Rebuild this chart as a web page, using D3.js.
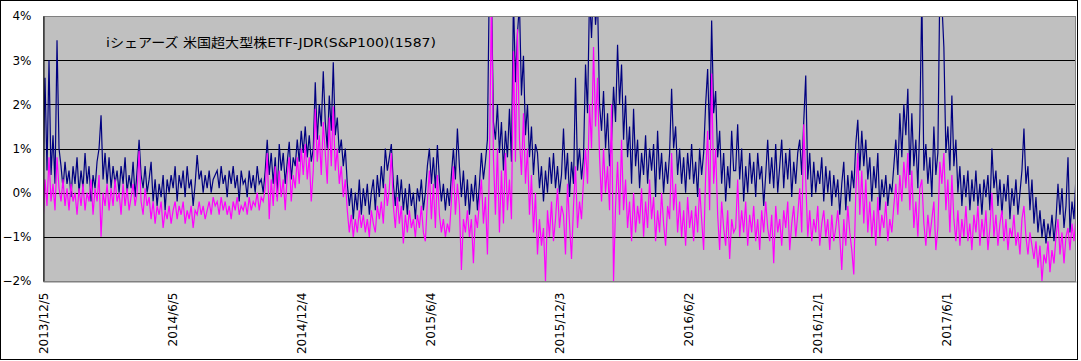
<!DOCTYPE html>
<html>
<head>
<meta charset="utf-8">
<script src="https://cdn.jsdelivr.net/npm/d3@7"></script>
<style>
  body { margin: 0; background: #fff; }
  svg { display: block; }
  text { font-family: "DejaVu Sans", "Noto Sans CJK JP", sans-serif; }
</style>
</head>
<body>
<div id="vis"></div>
<script>
// datos (en %), una muestra cada ~2 ruedas, desde 2013/12/5
const TITLE = "iシェアーズ 米国超大型株ETF-JDR(S&P100)(1587)";
const START_DATE = "2013-12-05";
const END_DATE = "2017-12-01";
const X_TICKS = ["2013-12-05", "2014-06-05", "2014-12-04", "2015-06-04", "2015-12-03", "2016-06-02", "2016-12-01", "2017-06-01"];
const Y_TICKS = [-2, -1, 0, 1, 2, 3, 4];
const Y_LABELS = ["−2%", "−1%", "0%", "1%", "2%", "3%", "4%"];

const navy = [
  0.3, 2.6, 0.5, 3.0, 0.4, 1.3, 0.2, 3.45, 1.0, 0.6, 0.1, 0.7, 0.2, 0.5, -0.1, 0.6, 0.2, 0.8, 0.0, 0.5,
  0.1, 0.9, 0.2, 0.6, -0.2, 0.4, 0.1, 0.7, 1.0, 1.75, 0.3, 0.9, 0.2, 0.8, 0.1, 0.6, 0.2, 0.5, 0.0, 0.6,
  0.2, 0.8, 0.0, 0.4, 0.1, 0.7, -0.1, 0.5, 1.2, 0.4, 0.1, 0.6, 0.0, 0.3, 0.7, -0.2, 0.3, -0.3, 0.2, -0.1,
  0.4, -0.4, 0.3, 0.0, 0.4, 0.1, 0.6, -0.2, 0.4, 0.1, 0.5, -0.1, 0.6, 0.1, 0.3, -0.3, 0.2, 0.85, 0.3, 0.5,
  0.0, 0.4, 0.1, 0.5, 0.0, 0.3, 0.4,
  // 2014 後半
  0.5, 0.1, 0.6, 0.2, 0.4, -0.1, 0.5, 0.2, 0.6, 0.1, 0.4, -0.2, 0.5, 0.2, 0.3, -0.1, 0.5, 0.1, 0.4, 0.0,
  0.6, 0.2, 0.3, 0.0, 0.5, 1.2, 0.4, 0.9, 0.2, 0.8, -0.1, 1.1, 0.5, 0.9, 0.2, 0.7, 1.15, 0.3, 0.8, 0.6,
  1.2, 0.7, 1.4, 0.9, 1.5, 0.8, 1.3, 0.7, 1.0, 2.5, 1.2, 2.0, 1.5, 2.75, 1.6, 1.0, 2.2, 1.4, 2.95, 1.3,
  1.7, 0.9, 1.2, 0.6, 1.0, 0.2, -0.3, 0.1, -0.6, 0.0, -0.4, 0.3, -0.5, 0.1, -0.3, 0.2, -0.5, 0.0, 0.3, -0.4,
  0.4, -0.1, 0.6, 0.1, 1.0, 0.5, 0.8,
  // 2015
  1.1, 0.2, -0.3, 0.4, -0.2, 0.3, -0.4, 0.1, -0.5, 0.2, -0.3, 0.0, -0.6, 0.1, -0.2, 0.3, -0.4, 0.0, 0.6, 1.0,
  0.2, 0.8, 0.1, 1.08, 0.3, -0.2, 0.2, -0.4, 0.1, -0.3, 0.4, 1.0, 0.3, 1.45, 0.6, -0.1, 0.5, -0.3, 0.3, -0.5,
  0.2, -0.2, 0.4, -0.4, 0.2, 0.9, 0.3, 0.7, 1.2, 5.0, 4.6, 1.6, 1.2, 2.0, 0.9, 1.6, 0.5, 1.4, 0.8, 1.9,
  0.7, 4.4, 2.5, 3.6, 4.3, 2.2, 3.1, 1.3, 2.0, 0.8, 1.5, 0.4, 1.1, 0.9, 0.1, 0.6, -0.2, 0.5, 0.0, 0.8,
  0.2, 0.9, 0.1, 0.6, 0.0, 0.4,
  // 2016 前半
  1.45, 0.3, 0.9, -0.1, 0.7, 0.2, 2.6, 0.5, 1.0, 0.3, 0.8, 2.9, 1.8, 4.5, 3.5, 4.8, 3.8, 4.4, 2.0, 1.4,
  2.3, 1.0, 1.8, 0.6, 1.2, 2.4, 1.6, 3.35, 2.0, 2.9, 1.2, 2.2, 0.8, 1.5, 0.2, 1.9, 0.6, 1.2, 0.1, 0.9,
  0.4, 1.3, 0.2, 1.0, 0.5, 1.1, -0.1, 1.4, 0.3, 0.9, 0.0, 0.7, 0.2, 0.9, 2.35, 1.0, 1.5, 0.4, 1.0, 0.2,
  0.8, 0.0, 0.9, 0.3, 1.1, 0.2, 0.7, -0.1, 1.0, 0.4, 0.9, 2.0, 2.8, 1.2, 3.9, 1.8, 2.3, 0.8, 1.4, 0.2,
  0.9, -0.2, 0.6, 0.1, 1.4, 0.5,
  // 2016 後半
  0.5, 1.55, 0.3, 1.0, -0.2, 0.6, 0.0, 0.9, 0.2, 0.7, -0.1, 0.9, 0.3, 0.6, -0.3, 0.4, 1.2, 0.2, 0.8, 0.1,
  1.1, 0.0, 0.6, 1.2, 0.1, 0.9, 0.3, 1.0, -0.1, 0.7, 0.2, 0.9, 1.2, 0.4, 1.6, 2.65, 0.3, 0.9, -0.1, 0.7,
  0.0, 0.5, 0.2, 0.8, -0.2, 0.6, 0.0, 0.5, -0.3, 0.4, -0.1, 0.3, -0.5, 0.2, 0.7, -0.4, 0.4, -0.2, 0.5, 0.1,
  1.1, 1.65, 0.5, 1.4, 0.6, 1.2, 0.3, 0.8, -0.2, 0.6, 0.1, 0.9, -0.4, 0.3, -0.1, 0.4, -0.3, 0.2, 0.0, 0.6,
  1.2, 0.4, 1.8, 0.8, 2.0, 1.3,
  // 2017
  2.35, 0.4, 1.8, 0.6, 1.2, 0.1, 1.6, 4.5, 0.5, 1.1, 0.2, 0.8, -0.1, 1.5, 0.4, 0.9, 4.8, 4.3, 3.3, 0.9,
  1.5, 0.5, 2.2, 0.6, 1.2, 0.0, 0.6, -0.3, 0.4, -0.1, 0.5, -0.4, 0.3, -0.2, 0.5, -0.3, 0.2, -0.5, 0.3, -0.1,
  0.4, -0.4, 1.0, 0.1, 0.5, -0.3, 0.3, -0.5, 0.2, -0.2, 0.4, -0.6, 0.1, -0.3, 0.3, -0.5, 0.0, 0.5, 1.45, 0.2,
  0.6, -0.4, 0.3, -0.7, -0.1, -0.9, -0.4, -1.0, -0.6, -1.15, -0.7, -1.0, -0.5, -1.1, -0.6, 0.2, -0.5, 0.1, -0.8, -0.3,
  0.8, -0.9, -0.2, -0.6, 0.4
];

const magenta = [
  -0.7, 0.3, -0.3, 0.8, -0.2, 0.2, -0.4, 0.8, 0.1, -0.2, 0.3, -0.3, 0.1, -0.4, 0.2, -0.2, 0.0, -0.5, 0.1, -0.3,
  0.2, -0.4, 0.0, -0.2, 0.3, -0.5, 0.1, -0.2, 0.4, -1.0, 0.0, -0.3, 0.2, -0.4, 0.1, -0.3, 0.3, -0.2, 0.0, -0.5,
  0.2, -0.3, 0.1, -0.4, -0.1, 0.2, -0.3, 0.0, 0.95, -0.2, -0.5, 0.1, -0.3, -0.1, -0.6, -0.2, -0.7, -0.3, -0.5, -0.2,
  -0.8, -0.4, -0.6, -0.3, -0.7, -0.4, -0.2, -0.6, -0.3, -0.5, -0.2, -0.7, -0.4, -0.6, -0.3, -0.8, -0.4, -0.5, -0.2, -0.5,
  -0.3, -0.6, -0.4, -0.2, -0.5, -0.1, -0.3,
  // 2014 後半
  -0.2, -0.5, -0.1, -0.4, -0.2, -0.5, -0.3, -0.6, -0.2, -0.4, -0.1, -0.5, -0.3, -0.4, -0.2, -0.5, -0.1, -0.4, -0.2, -0.3,
  0.0, -0.4, -0.1, -0.2, 0.1, 0.9, -0.6, 0.3, -0.3, 0.6, -0.2, 0.5, -0.1, 0.3, -0.4, 0.4, 0.8, -0.2, 0.4, 0.1,
  0.8, 0.2, 1.0, 0.4, 1.1, 0.3, 0.8, -0.2, 0.5, 1.9, 0.7, 1.3, 0.4, 1.6, 0.9, 0.2, 1.7, 0.6, 1.95, 0.5,
  1.0, 0.2, 0.6, -0.1, 0.3, -0.4, -0.9, -0.5, -1.0, -0.6, -0.9, -0.4, -0.8, -0.5, -0.9, -0.6, -1.0, -0.4, -0.7, -0.9,
  -0.3, -0.6, -0.2, -0.7, 0.2, -0.3, 0.1,
  // 2015
  0.9, -0.3, -0.8, -0.1, -0.7, -0.3, -1.15, -0.5, -0.9, -0.4, -0.8, -0.6, -1.0, -0.5, -0.8, -0.3, -0.9, -1.1, -0.2, 0.5,
  -0.6, 0.2, -0.8, 0.4, -0.5, -0.9, -0.6, -1.0, -0.7, -0.9, -0.2, 0.6, -0.5, 0.2, -0.3, -1.75, -0.6, -0.9, -0.4, -1.0,
  -0.6, -1.6, -0.5, -0.8, -0.2, 0.3, -0.7, -0.1, -1.4, 0.6, 4.5, 0.8, -0.5, 1.0, -0.9, 0.5, -0.7, 0.9, -0.4, 0.3,
  -0.6, 3.2, 0.7, 3.7, 1.2, 0.4, 1.8, 0.2, 1.0, -0.5, 0.4, -0.9, 0.0, -1.4, -0.6, -1.2, -0.8, -2.0, -0.4, -1.0,
  -0.2, -1.1, -0.6, 0.1, -0.8, -0.3,
  // 2016 前半
  -0.5, -1.4, 0.2, -0.7, -1.5, -0.3, 0.6, -0.8, -0.2, -0.6, 0.3, 1.0, 0.2, 2.0, 1.0, 3.3, 1.5, 2.6, 0.8, -0.2,
  1.0, 0.0, 0.6, -0.4, 2.0, -2.0, -0.3, 0.7, -0.5, 1.2, -0.4, 0.3, -0.8, -0.2, -1.1, 0.0, -0.9, -0.3, -0.7, 0.1,
  -1.0, -0.2, -0.8, 0.3, -0.6, -0.1, -1.1, -0.4, -0.9, 0.0, -0.7, -1.2, -0.3, -0.6, 0.9, -0.4, 0.2, -0.9, -0.2, -1.0,
  -0.4, -1.2, -0.1, -0.8, -0.4, -1.1, -0.3, -0.9, 0.1, -0.6, -1.3, 0.4, 1.4, -0.4, 2.7, 0.2, 1.0, -0.5, -1.3, -0.2,
  -0.8, -1.2, -0.4, -1.5, -0.6, -0.9,
  // 2016 後半
  -0.8, 0.3, -1.0, -0.4, -0.9, -0.2, -1.2, -0.5, -0.9, -0.3, -1.1, -0.6, -1.3, -0.4, -0.9, -0.2, -0.8, -1.1, -0.5, -1.6,
  -0.3, -0.9, -0.6, -1.2, -0.4, -0.8, -0.2, -1.3, -0.7, -0.3, -1.0, -0.5, 0.1, -0.9, 1.55, 0.3, -1.0, -0.4, -1.1, -0.6,
  -0.9, -0.3, -1.2, -0.7, -0.4, -1.0, -0.6, -1.3, -0.5, -1.1, -0.8, -0.4, -1.0, -1.75, -0.6, -1.2, -0.3, -0.9, -1.3, -1.85,
  0.0, 0.9, -0.5, 0.5, -0.7, 0.3, -0.9, -0.2, -1.0, -0.4, -1.2, -0.1, -1.0, -0.5, -0.8, -0.2, -1.1, -0.6, -0.9, -0.3,
  0.2, -0.5, 0.4, -0.2, 0.7, 0.1,
  // 2017
  0.9, -0.4, 0.5, -0.8, -0.2, -1.0, 0.1, 0.3, -0.7, -1.2, -0.5, -1.0, -0.6, -0.2, -1.3, -0.8, 0.7, 0.2, 0.9, -0.4,
  0.3, -0.9, 0.4, -0.6, -1.1, -0.4, -1.2, -0.6, -1.0, -0.3, -1.1, -0.7, -1.3, -0.5, -0.9, -0.3, -1.2, -0.6, -1.0, -0.4,
  -1.3, -0.8, 0.0, -1.0, -0.5, -1.2, -0.7, -0.4, -1.1, -0.6, -1.3, -0.8, -1.0, -0.5, -1.2, -0.9, -1.4, -0.6, -0.3, -1.0,
  -1.4, -0.9, -1.2, -1.5, -1.1, -1.7, -1.2, -2.0, -1.4, -1.6, -1.1, -1.8, -1.3, -1.6, -1.0, -0.6, -1.4, -0.9, -1.6, -1.0,
  -0.8, -1.3, -0.7, -1.1, -0.5
];

const WIDTH = 1081;
const HEIGHT = 361;
const PLOT = { left: 43, top: 16, right: 1076, bottom: 281 };

const SVG = d3.select("#vis").append("svg")
  .attr("width", WIDTH)
  .attr("height", HEIGHT);

// marco exterior
SVG.append("rect")
  .attr("x", 0.5).attr("y", 0.5)
  .attr("width", 1077).attr("height", 359)
  .attr("fill", "#fff")
  .attr("stroke", "#000");

const parse = d3.timeParse("%Y-%m-%d");
const start = parse(START_DATE);
const end = parse(END_DATE);

// una fecha por muestra, repartidas en el periodo
const n = navy.length;
const dates = d3.range(n).map(i => new Date(+start + (end - start) * i / (n - 1)));

const xScale = d3.scaleTime()
  .domain([start, end])
  .range([PLOT.left, PLOT.right]);

const yScale = d3.scaleLinear()
  .domain([-2, 4])
  .range([PLOT.bottom, PLOT.top]);

// area del grafico
SVG.append("rect")
  .attr("x", PLOT.left).attr("y", PLOT.top)
  .attr("width", PLOT.right - PLOT.left)
  .attr("height", PLOT.bottom - PLOT.top)
  .attr("fill", "#c0c0c0");

// lineas de grilla
SVG.append("g")
  .selectAll("line")
  .data(Y_TICKS.filter(d => d > -2 && d < 4))
  .join("line")
  .attr("x1", PLOT.left).attr("x2", PLOT.right)
  .attr("y1", d => Math.round(yScale(d)) + 0.5)
  .attr("y2", d => Math.round(yScale(d)) + 0.5)
  .attr("stroke", "#000")
  .attr("stroke-width", 1);

SVG.append("clipPath").attr("id", "clip")
  .append("rect")
  .attr("x", PLOT.left).attr("y", PLOT.top)
  .attr("width", PLOT.right - PLOT.left)
  .attr("height", PLOT.bottom - PLOT.top);

const line = d3.line()
  .x((d, i) => xScale(dates[i]))
  .y(d => yScale(d));

const lines = SVG.append("g").attr("clip-path", "url(#clip)");

lines.append("path")
  .datum(navy)
  .attr("d", line)
  .attr("fill", "none")
  .attr("stroke", "#000080")
  .attr("stroke-width", 1.2);

lines.append("path")
  .datum(magenta)
  .attr("d", line)
  .attr("fill", "none")
  .attr("stroke", "#ff00ff")
  .attr("stroke-width", 1.2);

// borde del area
SVG.append("rect")
  .attr("x", PLOT.left + 0.5).attr("y", PLOT.top + 0.5)
  .attr("width", PLOT.right - PLOT.left - 1)
  .attr("height", PLOT.bottom - PLOT.top)
  .attr("fill", "none")
  .attr("stroke", "#808080");

// eje Y
const yAxis = d3.axisLeft(yScale)
  .tickValues(Y_TICKS)
  .tickFormat((d, i) => Y_LABELS[i])
  .tickSize(0)
  .tickPadding(12);

const yAxisG = SVG.append("g")
  .attr("transform", `translate(${PLOT.left + 0.5}, 0)`)
  .call(yAxis);
yAxisG.select(".domain").attr("stroke", "#000");
yAxisG.selectAll("text")
  .attr("font-size", 12)
  .attr("fill", "#000");

// eje X con etiquetas verticales
const xAxis = d3.axisBottom(xScale)
  .tickValues(X_TICKS.map(parse))
  .tickFormat(d3.timeFormat("%Y/%-m/%-d"))
  .tickSize(0);

const xAxisG = SVG.append("g")
  .attr("transform", `translate(0, ${PLOT.bottom + 0.5})`)
  .call(xAxis);
xAxisG.select(".domain").attr("stroke", "#808080");
xAxisG.selectAll("text")
  .attr("font-size", 12)
  .attr("fill", "#000")
  .attr("text-anchor", "end")
  .attr("transform", "rotate(-90)")
  .attr("x", -11)
  .attr("y", 0)
  .attr("dy", "0.35em");

// titulo
SVG.append("text")
  .attr("x", 106)
  .attr("y", 47)
  .attr("font-size", 13)
  .attr("textLength", 330)
  .attr("lengthAdjust", "spacingAndGlyphs")
  .attr("fill", "#000")
  .text(TITLE);
</script>
</body>
</html>
